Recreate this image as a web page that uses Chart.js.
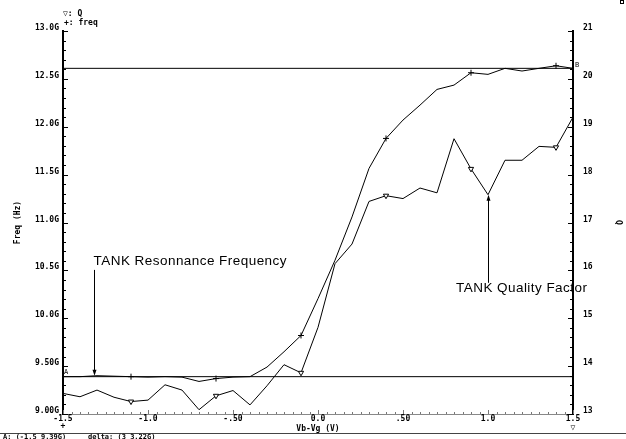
<!DOCTYPE html>
<html>
<head>
<meta charset="utf-8">
<script src="https://cdn.jsdelivr.net/npm/chart.js@4/dist/chart.umd.min.js"></script>
<style>
  html, body { margin: 0; padding: 0; background: #fff; }
  #wrap { width: 626px; height: 439px; }
</style>
</head>
<body>
<div id="wrap"><canvas id="c" width="626" height="439"></canvas></div>
<script>
// Bias sweep Vb-Vg (V)
const vbVg = [-1.5, -1.4, -1.3, -1.2, -1.1, -1.0, -0.9, -0.8, -0.7, -0.6, -0.5, -0.4, -0.3, -0.2, -0.1,
              0.0, 0.1, 0.2, 0.3, 0.4, 0.5, 0.6, 0.7, 0.8, 0.9, 1.0, 1.1, 1.2, 1.3, 1.4, 1.5];
// Tank resonance frequency (GHz)
const freqGHz = [9.39, 9.39, 9.40, 9.395, 9.39, 9.385, 9.39, 9.385, 9.34, 9.37, 9.385, 9.39, 9.49, 9.65, 9.82,
                 10.205, 10.606, 11.058, 11.565, 11.878, 12.07, 12.226, 12.39, 12.435, 12.564, 12.547, 12.61, 12.582, 12.61, 12.637, 12.61];
// Tank quality factor
const qFactor = [13.43, 13.36, 13.50, 13.35, 13.26, 13.29, 13.61, 13.50, 13.09, 13.38, 13.49, 13.19, 13.59, 14.03, 13.86,
                 14.81, 16.14, 16.55, 17.44, 17.56, 17.50, 17.72, 17.62, 18.75, 18.12, 17.58, 18.30, 18.30, 18.59, 18.57, 19.20];

// Axis tick labels
const vTickLabels = ['-1.5', '-1.0', '-.50', '0.0', '.50', '1.0', '1.5'];
const freqTickLabels = ['9.00G', '9.50G', '10.0G', '10.5G', '11.0G', '11.5G', '12.0G', '12.5G', '13.0G'];
const qTickLabels = ['13', '14', '15', '16', '17', '18', '19', '20', '21'];

// Cursors A and B (x, freq in GHz) and their delta
const cursorA = [-1.5, 9.39];
const cursorDelta = [3, 3.22];
const cursorB = [cursorA[0] + cursorDelta[0], cursorA[1] + cursorDelta[1]];

// Annotation anchors: [x, value] for text and arrow tips
const resText = [-1.32, 10.59];
const resArrow = [-1.32, 10.505, 9.40];   // x, from, to (freq axis)
const qualText = [0.812, 15.63];
const qualArrow = [1.0, 15.74, 17.58];    // x, from, to (Q axis)

const MONO = '"DejaVu Sans Mono", monospace';
const tickFont = { family: MONO, size: 8, weight: 'bold' };

const pts = (xs, ys) => xs.map((x, i) => ({ x, y: ys[i] }));
const markEvery = ctx => (ctx.dataIndex % 5 === 4 ? 3 : 0);

const decor = {
  id: 'decor',
  afterDraw(chart) {
    const { ctx, chartArea: ca, scales } = chart;
    const sx = scales.x, sy = scales.y, sq = scales.y2;
    ctx.save();

    // inward axis ticks
    ctx.lineWidth = 1;
    ctx.strokeStyle = '#000';
    const vTicks = (scale, x0, dir, step, sub) => {
      const n = Math.round((scale.max - scale.min) / step) * sub;
      for (let i = 0; i <= n; i++) {
        const v = scale.min + i * step / sub;
        const y = Math.round(scale.getPixelForValue(v)) + 0.5;
        const len = i % sub === 0 ? 4 : 2;
        ctx.beginPath();
        ctx.moveTo(x0, y);
        ctx.lineTo(x0 + dir * len, y);
        ctx.stroke();
      }
    };
    vTicks(sy, ca.left + 1, 1, 0.5, 5);
    vTicks(sq, ca.right - 1, -1, 1, 5);

    ctx.strokeStyle = '#777';
    const nX = Math.round((sx.max - sx.min) / 0.5) * 10;
    for (let i = 0; i <= nX; i++) {
      const v = sx.min + i * 0.05;
      const x = Math.round(sx.getPixelForValue(v)) + 0.5;
      const len = i % 10 === 0 ? 4 : 2;
      ctx.beginPath();
      ctx.moveTo(x, ca.bottom);
      ctx.lineTo(x, ca.bottom - len);
      ctx.stroke();
    }

    ctx.fillStyle = '#000';
    ctx.textBaseline = 'middle';

    // series key
    ctx.font = 'bold 8px ' + MONO;
    ctx.textAlign = 'left';
    ctx.fillText('\u25BD: Q', ca.left, 14);
    ctx.fillText('+: freq', ca.left + 1, 23);

    // axis series symbols
    ctx.textAlign = 'center';
    ctx.fillText('+', sx.getPixelForValue(-1.5), 426);
    ctx.fillText('\u25BD', sx.getPixelForValue(1.5), 428);

    // cursor tags
    ctx.font = '7px ' + MONO;
    ctx.textAlign = 'left';
    ctx.fillText('A', ca.left + 1, sy.getPixelForValue(cursorA[1]) - 4);
    ctx.fillText('B', ca.right + 2, sy.getPixelForValue(cursorB[1]) - 3);

    // annotations
    ctx.font = '13.5px "Liberation Sans", Arial, sans-serif';
    ctx.letterSpacing = '0.45px';
    ctx.fillText('TANK Resonnance Frequency', sx.getPixelForValue(resText[0]), sy.getPixelForValue(resText[1]));
    ctx.fillText('TANK Quality Factor', sx.getPixelForValue(qualText[0]), sq.getPixelForValue(qualText[1]));
    ctx.letterSpacing = '0px';

    const arrow = (x, y0, y1) => {
      x = Math.round(x) + 0.5;
      const d = y1 > y0 ? 1 : -1;
      ctx.strokeStyle = '#000';
      ctx.lineWidth = 1;
      ctx.beginPath();
      ctx.moveTo(x, y0);
      ctx.lineTo(x, y1 - d * 4);
      ctx.stroke();
      ctx.beginPath();
      ctx.moveTo(x, y1);
      ctx.lineTo(x - 2, y1 - d * 6);
      ctx.lineTo(x + 2, y1 - d * 6);
      ctx.closePath();
      ctx.fill();
    };
    arrow(sx.getPixelForValue(resArrow[0]), sy.getPixelForValue(resArrow[1]), sy.getPixelForValue(resArrow[2]));
    arrow(sx.getPixelForValue(qualArrow[0]), sq.getPixelForValue(qualArrow[1]), sq.getPixelForValue(qualArrow[2]));

    // cursor readout strip
    ctx.strokeStyle = '#444';
    ctx.beginPath();
    ctx.moveTo(0, 433.5);
    ctx.lineTo(626, 433.5);
    ctx.stroke();
    ctx.font = 'bold 7px ' + MONO;
    ctx.textAlign = 'left';
    ctx.fillText('A: (' + cursorA[0] + ' ' + cursorA[1].toFixed(2) + 'G)', 3, 437);
    ctx.fillText('delta: (' + cursorDelta[0] + ' ' + cursorDelta[1].toFixed(2) + 'G)', 88, 437);

    // window glyph
    ctx.strokeStyle = '#000';
    ctx.strokeRect(620.5, 0.5, 3, 3);

    ctx.restore();
  }
};

new Chart(document.getElementById('c'), {
  type: 'line',
  data: {
    datasets: [
      {
        label: 'freq', data: pts(vbVg, freqGHz), yAxisID: 'y',
        borderColor: '#000', borderWidth: 1, tension: 0, fill: false,
        pointStyle: 'cross', pointRadius: markEvery, pointBorderColor: '#000', pointBorderWidth: 1
      },
      {
        label: 'Q', data: pts(vbVg, qFactor), yAxisID: 'y2',
        borderColor: '#000', borderWidth: 1, tension: 0, fill: false,
        pointStyle: 'triangle', pointRotation: 180, pointRadius: markEvery,
        pointBackgroundColor: '#fff', pointBorderColor: '#000', pointBorderWidth: 1
      },
      {
        label: 'A', data: [{ x: -1.5, y: cursorA[1] }, { x: 1.5, y: cursorA[1] }], yAxisID: 'y',
        borderColor: '#000', borderWidth: 1, pointRadius: 0
      },
      {
        label: 'B', data: [{ x: -1.5, y: cursorB[1] }, { x: 1.5, y: cursorB[1] }], yAxisID: 'y',
        borderColor: '#000', borderWidth: 1, pointRadius: 0
      }
    ]
  },
  options: {
    responsive: false,
    animation: false,
    devicePixelRatio: 1,
    layout: { padding: { top: 31, left: 0, right: 0, bottom: 0 } },
    plugins: { legend: { display: false }, tooltip: { enabled: false } },
    elements: { line: { borderCapStyle: 'butt' } },
    scales: {
      x: {
        type: 'linear', min: -1.5, max: 1.5,
        ticks: {
          stepSize: 0.5, autoSkip: false, maxRotation: 0, padding: 0,
          color: '#000', font: tickFont,
          callback: (v, i) => vTickLabels[i]
        },
        grid: { display: false, drawTicks: false },
        border: { display: true, color: '#888', width: 1 },
        title: { display: true, text: 'Vb-Vg (V)', color: '#000', font: tickFont, padding: { top: 0, bottom: 5 } },
        afterFit: s => { s.height = 25; }
      },
      y: {
        position: 'left', min: 9, max: 13,
        ticks: {
          stepSize: 0.5, padding: 4, labelOffset: -3,
          color: '#000', font: tickFont,
          callback: (v, i) => freqTickLabels[i]
        },
        grid: { display: false, drawTicks: false },
        border: { display: true, color: '#000', width: 2 },
        title: { display: true, text: 'Freq (Hz)', color: '#000', font: tickFont, padding: { top: 13, bottom: 0 } },
        afterFit: s => { s.width = 63; }
      },
      y2: {
        position: 'right', min: 13, max: 21,
        ticks: {
          stepSize: 1, padding: 10, labelOffset: -3,
          color: '#000', font: tickFont,
          callback: (v, i) => qTickLabels[i]
        },
        grid: { display: false, drawTicks: false },
        border: { display: true, color: '#000', width: 2 },
        title: { display: true, text: 'Q', color: '#000', font: tickFont, padding: { top: 3, bottom: 0 } },
        afterFit: s => { s.width = 53; }
      }
    }
  },
  plugins: [decor]
});
</script>
</body>
</html>
